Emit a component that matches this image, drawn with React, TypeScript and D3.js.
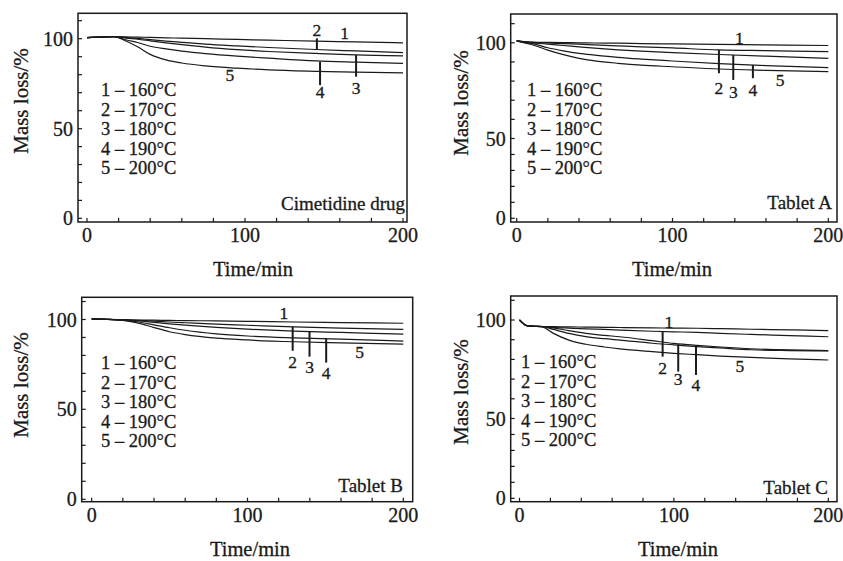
import React from "react";
import * as d3 from "d3";

// legend / labels
const legendLabels = ["1 – 160°C", "2 – 170°C", "3 – 180°C", "4 – 190°C", "5 – 200°C"];
const xTickLabels = [0, 100, 200];
const yTickLabels = [0, 50, 100];

// Cimetidine drug
const cimTimes = [0, 8, 17, 25, 32, 40, 50, 60, 75, 95, 115, 145, 170, 200];
const cim160 = [100.6, 100.9, 101.2, 101.0, 100.9, 100.7, 100.5, 100.3, 100.0, 99.6, 99.2, 98.6, 98.2, 97.7];
const cim170 = [100.6, 100.9, 101.2, 100.6, 100.2, 99.5, 98.7, 98.0, 97.0, 96.0, 95.1, 94.0, 93.2, 92.3];
const cim180 = [100.6, 100.9, 101.2, 100.3, 99.7, 98.8, 97.7, 96.7, 95.3, 93.9, 92.9, 91.8, 91.0, 90.5];
const cim190 = [100.6, 100.9, 101.2, 99.3, 97.9, 95.8, 94.3, 93.1, 91.7, 90.3, 89.2, 87.7, 87.0, 86.3];
const cim200 = [100.6, 100.9, 101.2, 98.6, 95.5, 91.3, 88.2, 86.5, 84.9, 83.6, 82.7, 81.9, 81.4, 81.0];
// [label, t, yFrom, yTo, labelY]  (null line = label only)
const cimMarks = [
  ["1", 163, null, null, 103],
  ["2", 145.5, 100.2, 94.0, 104.8],
  ["3", 170.3, 90.9, 78.9, 72.4],
  ["4", 147.5, 87.2, 74.2, 70.5],
  ["5", 90.5, null, null, 79.8],
];

// Tablet A
const aTimes = [0, 5, 10, 20, 30, 40, 50, 65, 80, 100, 130, 160, 200];
const a160 = [101.0, 100.6, 100.4, 100.2, 100.1, 100.0, 99.9, 99.8, 99.6, 99.4, 99.2, 98.9, 98.6];
const a170 = [101.0, 100.5, 100.2, 99.9, 99.6, 99.3, 98.9, 98.4, 97.9, 97.3, 96.3, 95.9, 95.4];
const a180 = [101.0, 100.4, 100.0, 99.3, 98.6, 97.9, 97.2, 96.3, 95.6, 94.9, 93.9, 93.0, 91.9];
const a190 = [101.0, 100.2, 99.6, 97.4, 95.8, 94.5, 93.6, 92.4, 91.5, 90.5, 89.1, 88.1, 87.0];
const a200 = [101.0, 100.0, 99.0, 96.2, 93.8, 91.9, 90.6, 89.3, 88.3, 87.5, 86.3, 85.6, 84.9];
const aMarks = [
  ["1", 142.9, null, null, 102.4],
  ["2", 129.8, 96.2, 84.1, 76.2],
  ["3", 139, 93.6, 80.6, 74.5],
  ["4", 151.6, 88.4, 81.5, 75.3],
  ["5", 169, null, null, 80.6],
];

// Tablet B
const bTimes = [0, 10, 20, 30, 40, 50, 60, 80, 100, 130, 160, 200];
const b160 = [100.3, 100.1, 99.9, 99.7, 99.6, 99.5, 99.4, 99.2, 99.0, 98.6, 98.3, 97.9];
const b170 = [100.3, 100.1, 99.8, 99.5, 99.1, 98.6, 98.2, 97.4, 96.8, 95.9, 95.2, 94.5];
const b180 = [100.3, 100.1, 99.7, 99.2, 98.4, 97.6, 96.9, 95.6, 94.6, 93.5, 92.8, 91.9];
const b190 = [100.3, 100.1, 99.6, 98.6, 97.0, 95.4, 94.0, 92.0, 90.8, 89.8, 89.1, 88.0];
const b200 = [100.3, 100.1, 99.5, 98.0, 95.5, 93.2, 91.6, 89.6, 88.6, 87.6, 87.0, 86.3];
const bMarks = [
  ["1", 123.3, null, null, 103.4],
  ["2", 129, 96.0, 82.6, 76.5],
  ["3", 139.8, 93.2, 79.3, 73.4],
  ["4", 150.5, 89.5, 76.0, 70.1],
  ["5", 172, null, null, 82.1],
];

// Tablet C
const cTimes = [0, 2, 4, 8, 15, 22, 32, 43, 55, 65, 86, 100, 115, 130, 150, 175, 200];
const c160 = [100, 98.5, 97.3, 96.9, 96.7, 96.6, 96.5, 96.4, 96.3, 96.2, 96.0, 95.9, 95.8, 95.6, 95.3, 95.0, 94.6];
const c170 = [100, 98.5, 97.3, 96.9, 96.7, 96.3, 95.9, 95.5, 95.2, 94.9, 94.3, 94.0, 93.7, 93.2, 92.7, 92.1, 91.5];
const c180 = [100, 98.5, 97.3, 96.9, 96.7, 96.0, 94.6, 93.2, 92.2, 91.5, 89.5, 88.1, 87.1, 86.3, 85.4, 84.8, 84.5];
const c190 = [100, 98.5, 97.3, 96.9, 96.6, 95.2, 93.2, 91.6, 90.5, 89.8, 88.2, 87.4, 86.5, 85.8, 84.9, 84.5, 84.3];
const c200 = [100, 98.5, 97.3, 96.9, 96.4, 93.2, 89.8, 87.7, 86.3, 85.3, 83.9, 83.1, 82.4, 81.7, 81.0, 80.3, 79.7];
const cMarks = [
  ["1", 96.7, null, null, 98.8],
  ["2", 92.7, 94.1, 81.4, 75.5],
  ["3", 102.8, 87.7, 73.8, 69.9],
  ["4", 114.3, 86.5, 72.1, 67.0],
  ["5", 142.8, null, null, 76.6],
];

const panels = [
  {
    name: "Cimetidine drug", times: cimTimes, series: [cim160, cim170, cim180, cim190, cim200], marks: cimMarks,
    frame: [78, 13.3, 407, 222], xr: [87, 403], yr: [218.3, 128.7, 38.7],
    legend: [101, 90], nameAt: [405, 203], yTitle: [21, 101], xTitle: [253, 269],
  },
  {
    name: "Tablet A", times: aTimes, series: [a160, a170, a180, a190, a200], marks: aMarks,
    frame: [510.7, 14, 837, 222], xr: [516.7, 828.3], yr: [218.3, 138.5, 42.8],
    legend: [527, 90], nameAt: [832, 202], yTitle: [461, 103], xTitle: [672, 269],
  },
  {
    name: "Tablet B", times: bTimes, series: [b160, b170, b180, b190, b200], marks: bMarks,
    frame: [81.7, 297.3, 412.7, 501.7], xr: [91.7, 403.3], yr: [499.3, 409.3, 319.5],
    legend: [101, 363], nameAt: [403, 485], yTitle: [21, 385], xTitle: [250, 549],
  },
  {
    name: "Tablet C", times: cTimes, series: [c160, c170, c180, c190, c200], marks: cMarks,
    frame: [510.7, 296, 837, 501.7], xr: [519.5, 828.3], yr: [498.3, 418.5, 320],
    legend: [521, 362], nameAt: [828, 487], yTitle: [461, 392], xTitle: [678, 549],
  },
];

const font = "'Liberation Serif', 'Times New Roman', serif";
const ink = "#1a1a1a";
const textStroke = { stroke: ink, strokeWidth: 0.3 };

function Panel({ p }: { p: any }) {
  const [fl, ft, fr, fb] = p.frame;
  const x = d3.scaleLinear().domain([0, 200]).range(p.xr);
  const y = d3.scaleLinear().domain([0, 50, 100]).range(p.yr);
  const line = d3
    .line<number>()
    .x((_, i) => x(p.times[i]))
    .y((d) => y(d))
    .curve(d3.curveMonotoneX);
  const xTicks = d3.range(0, 201, 20);
  const yTicks = d3.range(0, 111, 10);

  return (
    <g fontFamily={font} fill={ink}>
      <rect x={fl} y={ft} width={fr - fl} height={fb - ft} fill="none" stroke={ink} strokeWidth={1.5} />
      {xTicks.map((t) => (
        <line key={"xt" + t} x1={x(t)} x2={x(t)} y1={fb} y2={fb - 4} stroke={ink} strokeWidth={1.2} />
      ))}
      {yTicks.map((t) => (
        <line key={"yt" + t} x1={fl} x2={fl + 4} y1={y(t)} y2={y(t)} stroke={ink} strokeWidth={1.2} />
      ))}
      <g {...textStroke}>
        {xTickLabels.map((t) => (
          <text key={"xl" + t} x={x(t)} y={fb + 13} fontSize={20} textAnchor="middle" dominantBaseline="central">
            {t}
          </text>
        ))}
        {yTickLabels.map((t) => (
          <text key={"yl" + t} x={fl - 5} y={y(t)} fontSize={20} textAnchor="end" dominantBaseline="central">
            {t}
          </text>
        ))}
        {p.marks.map((m: any[]) => (
          <text key={"ml" + m[0]} x={x(m[1])} y={y(m[4])} fontSize={17.5} textAnchor="middle" dominantBaseline="central">
            {m[0]}
          </text>
        ))}
        {legendLabels.map((l, i) => (
          <text key={l} x={p.legend[0]} y={p.legend[1] + i * 19.5} fontSize={18.5} dominantBaseline="central">
            {l}
          </text>
        ))}
        <text x={p.nameAt[0]} y={p.nameAt[1]} fontSize={19} textAnchor="end" dominantBaseline="central">
          {p.name}
        </text>
        <text
          transform={`translate(${p.yTitle[0]},${p.yTitle[1]}) rotate(-90)`}
          fontSize={21}
          textAnchor="middle"
          dominantBaseline="central"
        >
          Mass loss/%
        </text>
        <text x={p.xTitle[0]} y={p.xTitle[1]} fontSize={20.5} textAnchor="middle" dominantBaseline="central">
          Time/min
        </text>
      </g>
      {p.series.map((s: number[], i: number) => (
        <path key={"s" + i} d={line(s) || ""} fill="none" stroke={ink} strokeWidth={1.2} />
      ))}
      {p.marks
        .filter((m: any[]) => m[2] !== null)
        .map((m: any[]) => (
          <line key={"m" + m[0]} x1={x(m[1])} x2={x(m[1])} y1={y(m[2])} y2={y(m[3])} stroke={ink} strokeWidth={2} />
        ))}
    </g>
  );
}

export default function App() {
  return (
    <svg width={843} height={561} style={{ position: "absolute", left: 0, top: 0, background: "#fff" }}>
      {panels.map((p) => (
        <Panel key={p.name} p={p} />
      ))}
    </svg>
  );
}
